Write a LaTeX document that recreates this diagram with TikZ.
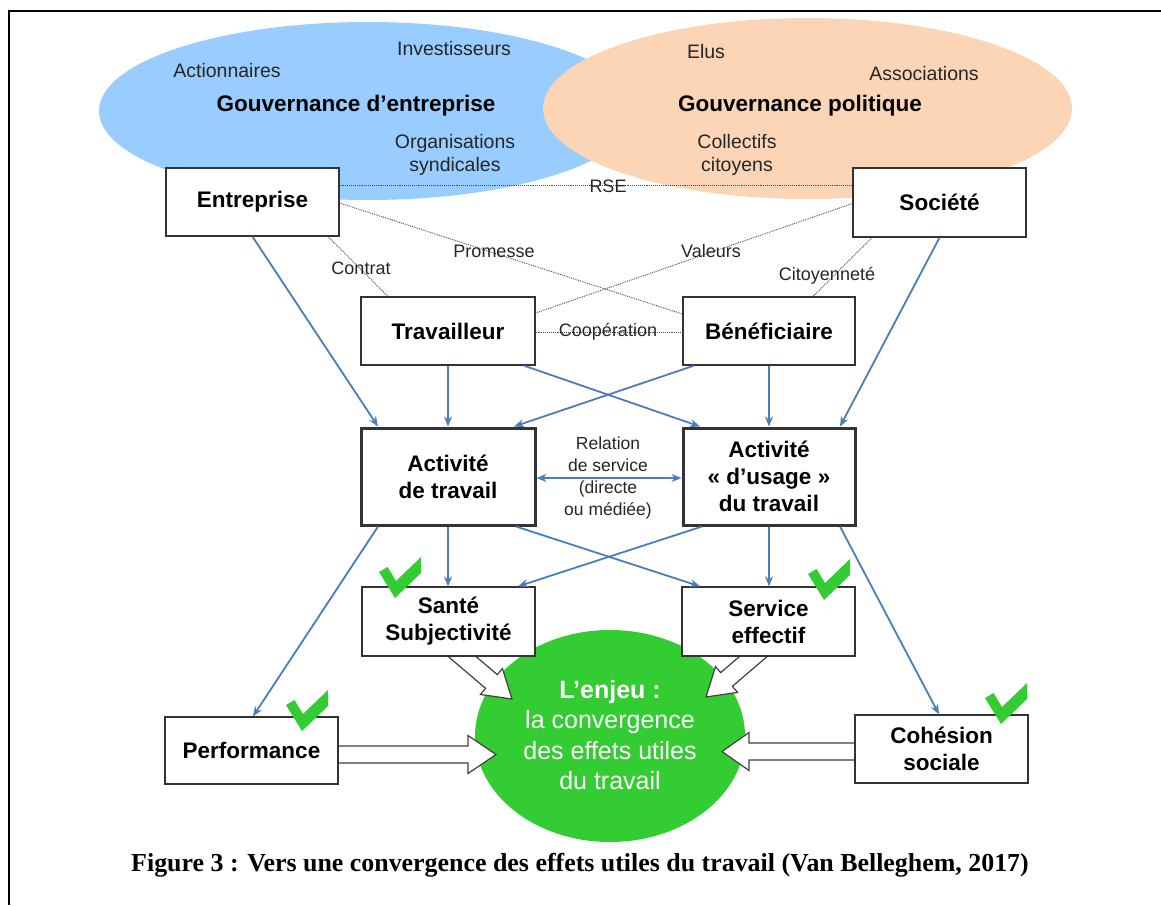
\documentclass[tikz,border=0pt]{standalone}
\usepackage{fontspec}
\setmainfont{Liberation Sans}
\newfontfamily\capfont{Liberation Serif}
\usetikzlibrary{calc,arrows.meta,shapes.geometric}
\definecolor{ellblue}{RGB}{153,204,255}
\definecolor{ellorange}{RGB}{251,213,181}
\definecolor{mygreen}{RGB}{51,204,51}
\definecolor{arrblue}{RGB}{74,126,187}
\pgfdeclarelayer{bg}\pgfdeclarelayer{mid}\pgfsetlayers{bg,mid,main}
\tikzset{
 box/.style={draw=black!80, fill=white, line width=1.3pt, inner sep=0pt, align=center, font=\fontsize{22.5}{27}\selectfont\bfseries},
 thickbox/.style={box, line width=3pt},
 lbl/.style={inner sep=0pt, align=center, text=black!85, font=\fontsize{18}{22}\selectfont},
 elllbl/.style={inner sep=0pt, align=center, text=black!85, font=\fontsize{19.5}{23}\selectfont},
 elltitle/.style={inner sep=0pt, font=\fontsize{22.5}{27}\selectfont\bfseries},
 bluearr/.style={draw=arrblue, line width=1.8pt, -{Stealth[length=10pt,width=8pt]}},
 dotline/.style={draw=black!70, line width=0.9pt, densely dotted},
 hollow/.style={draw=black!75, fill=white, line width=1.2pt, line join=miter},
 chk/.pic={\fill[mygreen] (0,0) -- (-16,-26) -- (-7.5,-31) -- (1,-17) -- (26,-41) -- (26,-25) -- cycle;},
}
\newcommand\blockarr[5]{%
 \coordinate (ba-p) at ($(#2)!#5!(#1)$);
 \draw[hollow] ($(#1)!#3!90:(#2)$) -- ($(ba-p)!#3!90:(#2)$) -- ($(ba-p)!#4!90:(#2)$) -- (#2)
   -- ($(ba-p)!#4!-90:(#2)$) -- ($(ba-p)!#3!-90:(#2)$) -- ($(#1)!#3!-90:(#2)$) -- cycle;}
\begin{document}
\begin{tikzpicture}[x=1pt,y=-1pt]
\useasboundingbox (0,0) rectangle (1161,905);

\begin{pgfonlayer}{bg}
\fill[white] (0,0) rectangle (1161,905);
\node[ellipse, fill=ellblue, inner sep=0, minimum width=538pt, minimum height=178pt] (gent) at (368,111) {};
\node[ellipse, fill=ellorange, inner sep=0, minimum width=529pt, minimum height=181pt] (gpol) at (807.5,108.5) {};
\node[ellipse, fill=mygreen, inner sep=0, minimum width=270pt, minimum height=212pt] (enjeuell) at (610,736) {};
\end{pgfonlayer}
\draw[line width=2pt] (1161,11) -- (9,11) -- (9,905);

% ellipse texts
\node[elllbl] (inv) at (454,49) {Investisseurs};
\node[elllbl] (act) at (227,71) {Actionnaires};
\node[elltitle] (tgent) at (356,106) {Gouvernance d’entreprise};
\node[elllbl] (org) at (455,155) {Organisations\\syndicales};
\node[elllbl] (elus) at (706,52) {Elus};
\node[elllbl] (asso) at (924,74) {Associations};
\node[elltitle] (tgpol) at (800,106) {Gouvernance politique};
\node[elllbl] (coll) at (737,155) {Collectifs\\citoyens};

% boxes
\node[box, minimum width=173pt, minimum height=68pt] (entreprise) at (252.5,202) {Entreprise};
\node[box, minimum width=173pt, minimum height=69pt] (societe) at (939.5,202.5) {Société};
\node[box, minimum width=174pt, minimum height=68pt] (trav) at (448,331) {Travailleur};
\node[box, minimum width=172pt, minimum height=68pt] (benef) at (769,331) {Bénéficiaire};
\node[thickbox, minimum width=174pt, minimum height=97pt] (acttrav) at (448,476.5) {Activité\\de travail};
\node[thickbox, minimum width=172pt, minimum height=97pt] (actusage) at (769,476.5) {Activité\\«~d’usage~»\\du travail};
\node[box, minimum width=173pt, minimum height=69pt] (sante) at (448.5,621.5) {Santé\\Subjectivité};
\node[box, minimum width=173pt, minimum height=69pt] (service) at (768.5,621.5) {Service\\effectif};
\node[box, minimum width=173pt, minimum height=67pt] (perf) at (251.5,750.5) {Performance};
\node[box, minimum width=173pt, minimum height=68pt] (cohesion) at (941.5,749) {Cohésion\\sociale};

% green text
\node[align=center, text=white, inner sep=0, font=\fontsize{25}{30.5}\selectfont] (enjeu) at (610,735) {\textbf{L’enjeu :}\\la convergence\\des effets utiles\\du travail};

% dotted relations
\coordinate (rsey) at (600,185);
\draw[dotline] (entreprise.east |- rsey) -- (societe.west |- rsey);
\node[lbl] (rse) at (608,186) {RSE};
\draw[dotline] ([yshift=-1pt]entreprise.east) -- ([yshift=17pt]benef.west);
\node[lbl] (prom) at (494,251) {Promesse};
\draw[dotline] ([yshift=-1pt]societe.west) -- ([yshift=18pt]trav.east);
\node[lbl] (val) at (711,251) {Valeurs};
\draw[dotline] ([xshift=75.5pt]entreprise.south) -- ([xshift=-60pt]trav.north);
\node[lbl] (contrat) at (361,268) {Contrat};
\draw[dotline] ([xshift=-67.5pt]societe.south) -- ([xshift=44pt]benef.north);
\node[lbl] (cit) at (827,276) {Citoyenneté};
\draw[dotline] ([yshift=-1pt]trav.east) -- ([yshift=-1pt]benef.west);
\node[lbl] (coop) at (608,332) {Coopération};

% blue arrows
\draw[bluearr] (entreprise.south) -- ([xshift=-70pt]acttrav.north);
\draw[bluearr] (trav.south) -- (acttrav.north);
\draw[bluearr] ([xshift=76pt]trav.south) -- ([xshift=-69pt]actusage.north);
\draw[bluearr] ([xshift=-75pt]benef.south) -- ([xshift=66pt]acttrav.north);
\draw[bluearr] (benef.south) -- (actusage.north);
\draw[bluearr] (societe.south) -- ([xshift=71pt]actusage.north);
\draw[bluearr] (acttrav.south) -- (sante.north -| acttrav.south);
\draw[bluearr] ([xshift=68pt]acttrav.south) -- ([xshift=-68.5pt]service.north);
\draw[bluearr] ([xshift=-67pt]actusage.south) -- ([xshift=69.5pt]sante.north);
\draw[bluearr] (actusage.south) -- (service.north -| actusage.south);
\draw[bluearr] ([xshift=-70pt]acttrav.south) -- ([xshift=1.5pt]perf.north);
\draw[bluearr] ([xshift=71pt]actusage.south) -- ([xshift=-2.5pt]cohesion.north);
\coordinate (rel) at (608,478);
\draw[bluearr, {Stealth[length=10pt,width=8pt]}-{Stealth[length=10pt,width=8pt]}] (acttrav.east |- rel) -- (actusage.west |- rel);
\node[lbl, font=\fontsize{17.5}{22}\selectfont] (relation) at (608,478) {Relation\\de service\\(directe\\ou médiée)};

% block arrows
\begin{pgfonlayer}{mid}
\coordinate (bpA) at ([xshift=-8pt,yshift=-4pt]perf.east);
\coordinate (bpB) at (496,754.5);
\blockarr{bpA}{bpB}{8.5pt}{19pt}{28pt}
\coordinate (bcA) at ([xshift=8pt,yshift=-2.5pt]cohesion.west);
\coordinate (bcB) at (722,751.5);
\blockarr{bcA}{bcB}{8.5pt}{19pt}{27pt}
\coordinate (bsA) at ([xshift=2pt,yshift=10pt]sante.south);
\coordinate (bsB) at (512,699);
\blockarr{bsA}{bsB}{9pt}{17pt}{27pt}
\coordinate (bvA) at ([xshift=-3.6pt,yshift=10pt]service.south);
\coordinate (bvB) at (706,697);
\blockarr{bvA}{bvB}{9pt}{17pt}{27pt}
\end{pgfonlayer}

% checks
\pic at (395,598) {chk};
\pic at (824,600) {chk};
\pic at (302,731) {chk};
\pic at (1001,724) {chk};

% caption
\node[inner sep=0, font=\capfont\fontsize{25.9}{30}\selectfont\bfseries] (caption) at (580,865) {Figure 3 : Vers une convergence des effets utiles du travail (Van Belleghem, 2017)};
\end{tikzpicture}
\end{document}
